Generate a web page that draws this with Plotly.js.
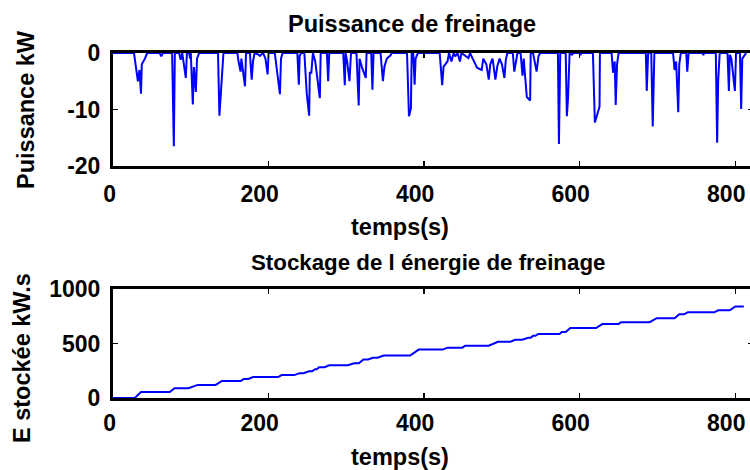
<!DOCTYPE html>
<html>
<head>
<meta charset="utf-8">
<script src="https://cdn.plot.ly/plotly-3.0.1.min.js"></script>
<style>
html,body{margin:0;padding:0;overflow:hidden;background:#fff;}
#chart{width:753px;height:470px;}
</style>
</head>
<body>
<div id="chart"></div>
<script>
// Braking power (kW) vs time (s)
const powerTime = [0,27,32,34,36,37,41,44,60,62,64,76,78.2,79.5,85,87,89,93.6,95,98,99,100,102.6,104,106.5,108,110.7,
  135,136.8,139,142,160,161,164,165,169.7,171,176,178.3,180,182,187,189,191,193,196,198.8,200,208,214.6,216,218,
  237,238.9,240,242,246,249,252.2,253,255,257,260,265.9,267,275,276.6,278,296,298,299,301,304,306,313,315.9,317,320,325,326,
  332,333.5,335,344,347,349,352,357,358,378,380.5,383,384,386,387.8,389,392,420,423.2,425,430,432,435,438,440,443,446,448,
  454,457,459,464,468,474,476,480,483.1,485,488,491.6,494,497,500,503.2,505,507,514,515.9,518,520,524,526.5,528,532,536.3,537,
  540,544.6,547,549,572,573.3,575,582,583.5,585,587,590,592,600,601,602,617,619.5,625.5,626,641,642.9,645,646.3,648,650,
  685,686.2,688,692,693.9,696,720,722,724,726.7,728,730,737,738.3,740,758,759,760,775,776.7,778,780,790,791.8,793,795,799.5,801,
  806,807.6,809,812,814];
const powerKW = [0,0,-5,-3,-7.2,-2,-1,0,0,-0.6,0,0,-16.5,0,0,-1.2,0,-4.4,0,0,-1,0,-9.1,-2.5,-6.9,-1,0,
  0,-11.1,-5.5,0,0,-1.2,-3.3,-1,-5.9,0,0,-4.7,-1.5,0,-0.3,-0.5,-0.2,0,-1,-3.8,0,0,-7.3,-1,0,
  0,-5.6,-0.5,0,0,-7,-11.1,-3.5,-3.5,0,-1.5,-8,0,0,-5,0,0,-5.7,0,-1.5,-5,0,0,-9.3,-1,-2.5,-4.4,0,
  0,-6.5,0,0,-5,-2.4,-1,-0.4,0,0,-11.2,-9.8,0,0,-5.6,-1,0,0,-5.7,-2.4,-1.5,0,-1.5,0,-0.6,0,-1.5,0,
  -0.6,-0.9,0,-1.5,-2.6,-3,-1,-2,-4.7,-2,-1,-4.7,-2.4,-1,-2,-4.4,-1.2,0,0,-3.3,-1.5,0,0,-4,-1,-7.8,-8.4,0,
  0,-3.3,-0.6,0,0,-16.1,0,0,-11.2,-8,0,-0.3,0,0,-0.4,0,0,-12.3,-9.5,0,0,-3.5,-1.5,-9.2,-2,0,
  0,-6.7,0,0,-13,0,0,-3,-1.5,-10.5,-2,0,0,-3.3,0,0,-0.4,0,0,-15.9,-5,0,0,-6.7,-0.3,-1,-6.7,0,
  0,-9.9,-1,-0.5,0];

// Stored braking energy (kW.s) vs time (s)
const energyTime = [0,28,36,73,79,97,109,132,140,164,168,174,180,212,217,233,240,245,252,256,260,262,265,272,278,302,310,316,322,328,334,340,348,382,393,424,430,449,453,483,495,511,517,526,534,537,540,543,547,574,577,582,588,621,629,650,653,690,699,722,728,734,739,773,778,793,800,811];
const energyKWs = [0,0,54,54,90,90,120,120,156,156,174,174,192,192,210,210,228,228,246,246,264,264,282,282,300,300,318,318,354,354,369,369,390,390,444,444,462,462,480,480,516,516,534,534,552,552,570,570,588,588,606,606,642,642,678,678,696,696,732,732,768,768,786,786,804,804,840,840];

const xTicks = [0,200,400,600,800];
const xTickLabels = ['\u20020','200','400','600','800'];
const yTicksPower = [-20,-10,0];
const yTicksEnergy = [0,500,1000];

const W = 753, H = 470;
const FONT = {family:'Liberation Sans, Arial, sans-serif', size:23, color:'#000', weight:'bold'};
const TITLE_FONT = {family:'Liberation Sans, Arial, sans-serif', size:23.5, color:'#000', weight:'bold'};
const TITLE_FONT2 = {family:'Liberation Sans, Arial, sans-serif', size:22.3, color:'#000', weight:'bold'};

const axisCommon = {
  showline:true, linecolor:'#000', linewidth:3, mirror:'ticks',
  ticks:'inside', ticklen:5, tickwidth:1.5, tickcolor:'#000',
  showgrid:false, zeroline:false, tickfont:FONT, fixedrange:true
};

const traces = [
  {x:powerTime, y:powerKW, type:'scatter', mode:'lines', line:{color:'#0000ff', width:2}, xaxis:'x', yaxis:'y', hoverinfo:'skip'},
  {x:energyTime, y:energyKWs, type:'scatter', mode:'lines', line:{color:'#0000ff', width:2}, xaxis:'x2', yaxis:'y2', hoverinfo:'skip'}
];

const xDom = [113/W, 1];
const layout = {
  width:W, height:H, margin:{l:0,r:0,t:0,b:0}, showlegend:false,
  paper_bgcolor:'#fff', plot_bgcolor:'#fff',
  xaxis:Object.assign({}, axisCommon, {domain:xDom, range:[0,822.8], tickvals:xTicks, ticktext:xTickLabels, anchor:'y', ticklabelstandoff:5, ticklabelshift:-9, ticklabeloverflow:'allow'}),
  yaxis:Object.assign({}, axisCommon, {domain:[1-166/H, 1-53/H], range:[-20,0], tickvals:yTicksPower, ticktext:yTicksPower.map(String), anchor:'x', ticklabelstandoff:5}),
  xaxis2:Object.assign({}, axisCommon, {domain:xDom, range:[0,822.8], tickvals:xTicks, ticktext:xTickLabels, anchor:'y2', ticklabelstandoff:2, ticklabelshift:-9, ticklabeloverflow:'allow'}),
  yaxis2:Object.assign({}, axisCommon, {domain:[1-398/H, 1-289/H], range:[0,1000], tickvals:yTicksEnergy, ticktext:yTicksEnergy.map(String), anchor:'x2', ticklabelstandoff:5}),
  annotations:[
    {text:'Puissance de freinage', xref:'paper', yref:'paper', x:412/W, y:1-24/H, xanchor:'center', yanchor:'middle', showarrow:false, font:TITLE_FONT},
    {text:'temps(s)', xref:'paper', yref:'paper', x:400/W, y:1-227/H, xanchor:'center', yanchor:'middle', showarrow:false, font:TITLE_FONT},
    {text:'Puissance kW', xref:'paper', yref:'paper', x:26/W, y:1-110/H, xanchor:'center', yanchor:'middle', textangle:-90, showarrow:false, font:TITLE_FONT},
    {text:'Stockage de l énergie de freinage', xref:'paper', yref:'paper', x:428/W, y:1-262/H, xanchor:'center', yanchor:'middle', showarrow:false, font:TITLE_FONT2},
    {text:'temps(s)', xref:'paper', yref:'paper', x:400/W, y:1-457/H, xanchor:'center', yanchor:'middle', showarrow:false, font:TITLE_FONT},
    {text:'E stockée kW.s', xref:'paper', yref:'paper', x:22/W, y:1-358/H, xanchor:'center', yanchor:'middle', textangle:-90, showarrow:false, font:TITLE_FONT}
  ]
};

Plotly.newPlot('chart', traces, layout, {displayModeBar:false, staticPlot:true});
</script>
</body>
</html>
